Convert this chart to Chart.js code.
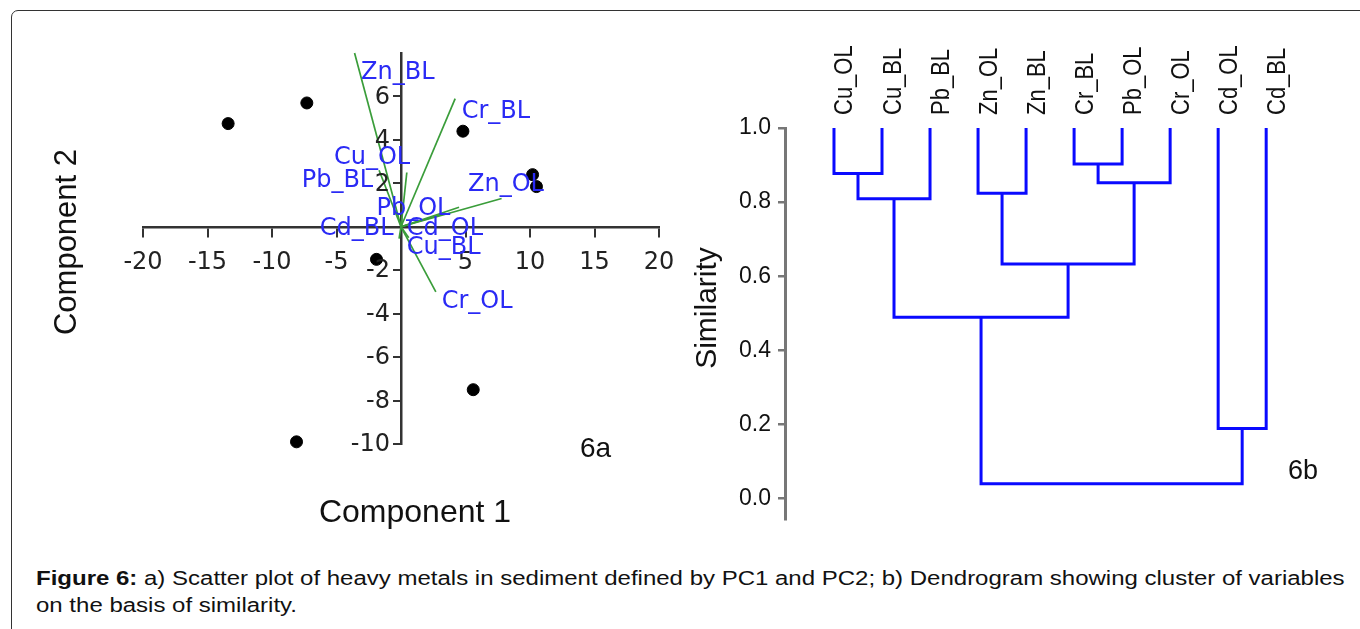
<!DOCTYPE html>
<html>
<head>
<meta charset="utf-8">
<script src="https://cdn.jsdelivr.net/npm/chart.js@4.4.1/dist/chart.umd.min.js"></script>
<style>
    html, body { margin: 0; padding: 0; background: #fff; }
    body { width: 1360px; height: 629px; position: relative; overflow: hidden; }
    #frame {
        position: absolute; left: 11px; top: 10px; width: 1400px; height: 700px;
        border: 1.5px solid #333; border-radius: 7px; box-sizing: border-box;
    }
    #scatter { position: absolute; left: 0; top: 0; }
    #dendro { position: absolute; left: 680px; top: 0; }
    #caption {
        position: absolute; left: 36px; top: 565px;
        font-family: "Liberation Sans", Arial, sans-serif; font-size: 20px;
        line-height: 27px; color: #111; white-space: nowrap;
        transform: scaleX(1.2); transform-origin: 0 0;
    }
</style>
</head>
<body>
<div id="frame"></div>
<canvas id="scatter" width="700" height="540"></canvas>
<canvas id="dendro" width="680" height="540"></canvas>
<div id="caption"><b>Figure 6:</b> a) Scatter plot of heavy metals in sediment defined by PC1 and PC2; b) Dendrogram showing cluster of variables<br>on the basis of similarity.</div>

<script>
// 6a - PCA scores (component 1, component 2)
const scoreX = [-13.4, -7.3, 4.8, 10.2, 10.5, -1.9, 5.6, -8.1]
const scoreY = [4.75, 5.7, 4.4, 2.4, 1.85, -1.5, -7.5, -9.9]

// 6a - loading vectors (end points) and where their names sit
const vectorNames = ["Zn_BL", "Cr_BL", "Cu_OL", "Pb_BL", "Pb_OL", "Zn_OL", "Cd_OL", "Cu_BL", "Cd_BL", "Cr_OL"]
const vectorX = [-3.6, 4.2, 0.45, -1.7, 4.5, 7.8, 3.3, 0.6, -0.15, 2.7]
const vectorY = [8.0, 5.9, 2.5, 2.6, 0.9, 1.3, 0.6, -0.5, -0.55, -3.0]
const vectorLabelX = [-3.1, 4.7, -5.2, -7.7, -1.9, 5.2, 0.45, 0.45, -6.3, 3.15]
const vectorLabelY = [7.08, 5.29, 3.17, 2.11, 0.83, 1.93, -0.09, -0.97, -0.09, -3.45]

// 6b - dendrogram leaves and merges [left node, right node, similarity]
const leaves = ["Cu_OL", "Cu_BL", "Pb_BL", "Zn_OL", "Zn_BL", "Cr_BL", "Pb_OL", "Cr_OL", "Cd_OL", "Cd_BL"]
const merges = [
    [0, 1, 0.877],
    [10, 2, 0.809],
    [3, 4, 0.824],
    [5, 6, 0.903],
    [13, 7, 0.852],
    [12, 14, 0.633],
    [11, 15, 0.489],
    [8, 9, 0.189],
    [16, 17, 0.040]
]
const similarityTicks = [0, 0.2, 0.4, 0.6, 0.8, 1.0]

const BLACK = "#222"
const GREEN = "#3a9d3a"
const BLUE_TEXT = "#2a2af5"
const BLUE_LINE = "#0a0aff"
const TICK_FONT = '24px "DejaVu Sans"'

// ---------- 6a scatter ----------
const scatterText = {
    id: "scatterText",
    afterDatasetsDraw(chart) {
        const { ctx, scales: { x, y } } = chart
        ctx.save()

        // y tick labels sit left of the centred axis
        const axisX = x.getPixelForValue(0)
        ctx.fillStyle = BLACK
        ctx.font = TICK_FONT
        ctx.textAlign = "right"
        ctx.textBaseline = "middle"
        y.ticks.forEach((t) => {
            ctx.fillText(String(t.value), axisX - 11, y.getPixelForValue(t.value) + 1)
        })

        ctx.fillStyle = BLUE_TEXT
        ctx.textAlign = "left"
        vectorNames.forEach((name, i) => {
            ctx.fillText(name, x.getPixelForValue(vectorLabelX[i]), y.getPixelForValue(vectorLabelY[i]))
        })

        ctx.fillStyle = "#111"
        ctx.font = '32px "Liberation Sans"'
        ctx.textAlign = "center"
        ctx.fillText("Component 1", 415, 513)
        ctx.save()
        ctx.translate(67, 242)
        ctx.rotate(-Math.PI / 2)
        ctx.font = '31px "Liberation Sans"'
        ctx.fillText("Component 2", 0, 0)
        ctx.restore()

        ctx.font = '28px "Liberation Sans"'
        ctx.textAlign = "left"
        ctx.fillText("6a", 580, 449)
        ctx.restore()
    }
}

const vectorSets = vectorNames.map((name, i) => ({
    label: name,
    data: [{ x: 0, y: 0 }, { x: vectorX[i], y: vectorY[i] }],
    showLine: true,
    borderColor: GREEN,
    borderWidth: 1.7,
    pointRadius: 0,
    clip: false
}))

new Chart(document.getElementById("scatter"), {
    type: "scatter",
    data: {
        datasets: [
            ...vectorSets,
            {
                label: "scores",
                data: scoreX.map((v, i) => ({ x: v, y: scoreY[i] })),
                backgroundColor: "#000",
                borderColor: "#000",
                pointRadius: 6,
                clip: false
            }
        ]
    },
    options: {
        responsive: false,
        animation: false,
        devicePixelRatio: 1,
        layout: { padding: { left: 143, top: 53, right: 41, bottom: 96 } },
        plugins: { legend: { display: false }, tooltip: { enabled: false } },
        scales: {
            x: {
                type: "linear",
                min: -20,
                max: 20,
                position: { y: 0 },
                border: { display: true, color: "#333", width: 2.5 },
                grid: { drawOnChartArea: false, drawTicks: true, tickLength: 9, color: "#333", lineWidth: 2 },
                ticks: { stepSize: 5, padding: 13, color: BLACK, font: { family: "DejaVu Sans", size: 24 } },
                afterBuildTicks: (scale) => { scale.ticks = scale.ticks.filter((t) => t.value !== 0) }
            },
            y: {
                type: "linear",
                min: -10,
                max: 8,
                position: { x: 0 },
                border: { display: true, color: "#333", width: 2.5 },
                grid: { drawOnChartArea: false, drawTicks: true, tickLength: 7, color: "#333", lineWidth: 2 },
                ticks: { display: false, stepSize: 2 },
                afterBuildTicks: (scale) => { scale.ticks = scale.ticks.filter((t) => t.value !== 0 && t.value < 8) }
            }
        }
    },
    plugins: [scatterText]
})

// ---------- 6b dendrogram ----------
const nodeX = leaves.map((_, i) => i)
const nodeH = leaves.map(() => 1.0)
const branchSets = merges.map(([a, b, h]) => {
    nodeX.push((nodeX[a] + nodeX[b]) / 2)
    nodeH.push(h)
    return {
        data: [
            { x: nodeX[a], y: nodeH[a] },
            { x: nodeX[a], y: h },
            { x: nodeX[b], y: h },
            { x: nodeX[b], y: nodeH[b] }
        ],
        showLine: true,
        borderColor: BLUE_LINE,
        borderWidth: 3,
        borderJoinStyle: "miter",
        pointRadius: 0,
        clip: false
    }
})

const dendroText = {
    id: "dendroText",
    afterDatasetsDraw(chart) {
        const { ctx, scales: { x } } = chart
        ctx.save()
        ctx.fillStyle = "#111"
        ctx.font = '22px "Liberation Sans"'
        ctx.textAlign = "left"
        ctx.textBaseline = "alphabetic"
        leaves.forEach((name, i) => {
            ctx.save()
            ctx.translate(x.getPixelForValue(i) + 18.5, 115)
            ctx.rotate(-Math.PI / 2)
            ctx.scale(1, 1.15)
            ctx.fillText(name, 0, 0)
            ctx.restore()
        })

        ctx.font = '30px "Liberation Sans"'
        ctx.textAlign = "center"
        ctx.textBaseline = "middle"
        ctx.save()
        ctx.translate(28, 308)
        ctx.rotate(-Math.PI / 2)
        ctx.fillText("Similarity", 0, 0)
        ctx.restore()

        ctx.font = '27px "Liberation Sans"'
        ctx.textAlign = "left"
        ctx.fillText("6b", 608, 472)
        ctx.restore()
    }
}

new Chart(document.getElementById("dendro"), {
    type: "scatter",
    data: { datasets: branchSets },
    options: {
        responsive: false,
        animation: false,
        devicePixelRatio: 1,
        layout: { padding: { left: 10, top: 128, right: 65, bottom: 17 } },
        plugins: { legend: { display: false }, tooltip: { enabled: false } },
        scales: {
            x: { type: "linear", min: -1.02, max: 9.6, display: false },
            y: {
                type: "linear",
                min: -0.056,
                max: 1.0,
                position: "left",
                afterFit: (scale) => { scale.width = 95 },
                afterBuildTicks: (scale) => {
                    scale.ticks = similarityTicks.map((v) => ({ value: v }))
                },
                border: { display: true, color: "#777", width: 3 },
                grid: { drawOnChartArea: false, drawTicks: true, tickLength: 7, color: "#777", lineWidth: 2.5 },
                ticks: {
                    padding: 7,
                    color: "#111",
                    font: { family: "Liberation Sans", size: 23 },
                    callback: (v) => Number(v).toFixed(1)
                }
            }
        }
    },
    plugins: [dendroText]
})
</script>
</body>
</html>
